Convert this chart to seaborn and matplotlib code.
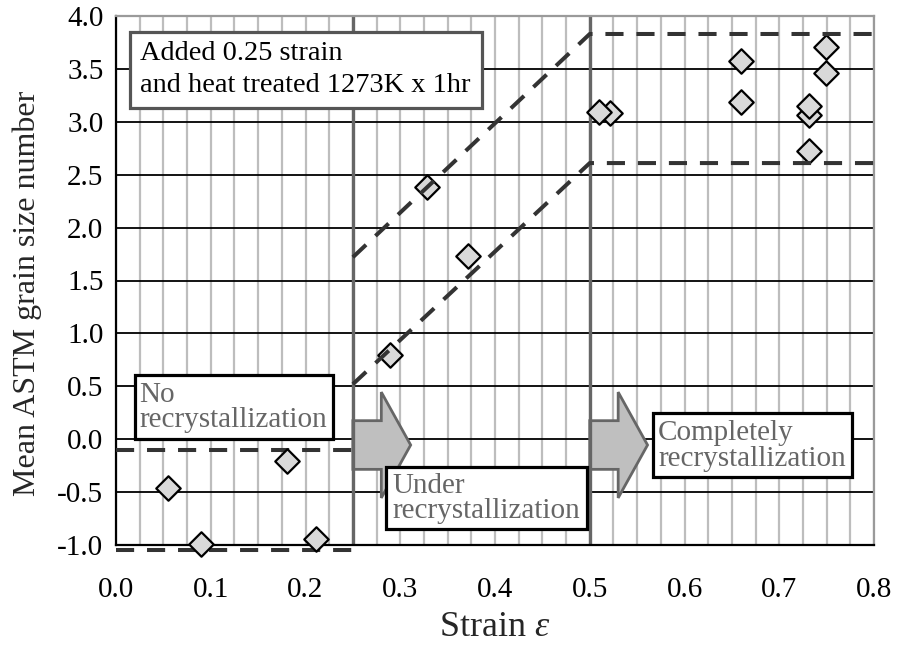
import numpy as np
import pandas as pd
import matplotlib
matplotlib.use("Agg")
import matplotlib.pyplot as plt
from matplotlib.patches import Rectangle, FancyArrow
import seaborn as sns

# ---------------- data ----------------
strain = [0.055, 0.090, 0.180, 0.211, 0.289, 0.328, 0.371,
          0.521, 0.510, 0.660, 0.660, 0.731, 0.731, 0.731, 0.749, 0.749]
grain_size = [-0.46, -0.99, -0.21, -0.94, 0.80, 2.38, 1.73,
              3.08, 3.09, 3.57, 3.19, 2.72, 3.06, 3.15, 3.71, 3.46]

x_ticks = [0.0, 0.1, 0.2, 0.3, 0.4, 0.5, 0.6, 0.7, 0.8]
x_tick_labels = ["0.0", "0.1", "0.2", "0.3", "0.4", "0.5", "0.6", "0.7", "0.8"]
y_ticks = [-1.0, -0.5, 0.0, 0.5, 1.0, 1.5, 2.0, 2.5, 3.0, 3.5, 4.0]
y_tick_labels = ["-1.0", "-0.5", "0.0", "0.5", "1.0", "1.5", "2.0", "2.5", "3.0", "3.5", "4.0"]

region_bounds = [0.25, 0.5]
# guide (band) lines
no_rx_x = [0.0, 0.25]
no_rx_upper = [-0.10, -0.10]
no_rx_lower = [-1.05, -1.05]
upper_band_x = [0.25, 0.5, 0.8]
upper_band_y = [1.72, 3.83, 3.83]
lower_band_x = [0.25, 0.5, 0.8]
lower_band_y = [0.52, 2.61, 2.61]

# ---------------- style ----------------
sns.set_style("white")
plt.rcParams["font.family"] = ["Liberation Serif", "DejaVu Serif"]
plt.rcParams["mathtext.fontset"] = "custom"
plt.rcParams["mathtext.rm"] = "Liberation Serif"
plt.rcParams["mathtext.it"] = "Liberation Serif:italic"
plt.rcParams["axes.unicode_minus"] = False

W, H = 902, 655
fig = plt.figure(figsize=(W / 100, H / 100), dpi=100)
AX_L, AX_R, AX_T, AX_B = 116, 874, 16, 545
ax = fig.add_axes([AX_L / W, (H - AX_B) / H, (AX_R - AX_L) / W, (AX_B - AX_T) / H])


def px2ax(px, py):
    return (px - AX_L) / (AX_R - AX_L), (AX_B - py) / (AX_B - AX_T)


ax.set_xlim(0, 0.8)
ax.set_ylim(-1.0, 4.0)
ax.set_xticks(x_ticks)
ax.set_xticklabels(x_tick_labels)
ax.set_yticks(y_ticks)
ax.set_yticklabels(y_tick_labels)
ax.set_xticks(np.arange(0, 0.8001, 0.025), minor=True)

ax.set_axisbelow(True)
ax.grid(axis="x", which="both", color="#bdbdbd", lw=1.6, zorder=0)
ax.grid(axis="y", which="major", color="black", lw=1.3, zorder=0.5)

for side in ["left", "bottom"]:
    ax.spines[side].set_color("black")
    ax.spines[side].set_linewidth(1.6)
for side in ["top", "right"]:
    ax.spines[side].set_color("#9a9a9a")
    ax.spines[side].set_linewidth(1.6)

ax.tick_params(axis="both", which="major", direction="in", length=6, width=1.5,
               color="black", labelsize=21, labelcolor="black")
ax.tick_params(axis="x", which="major", pad=23)
ax.tick_params(axis="y", which="major", pad=9)
ax.tick_params(which="minor", length=0)

ax.set_xlabel(r"Strain $\varepsilon$", fontsize=26, labelpad=6)
ax.set_ylabel("Mean ASTM grain size number", fontsize=23)
ax.yaxis.set_label_coords(-0.098, 0.476)

# region boundaries
for xb in region_bounds:
    ax.axvline(xb, color="#666666", lw=2.4, zorder=2.5)

# arrows
for x0 in region_bounds:
    arr = FancyArrow(x0, -0.055, 0.061, 0, width=0.46, head_width=1.0,
                     head_length=0.031, length_includes_head=True,
                     fc="#bfbfbf", ec="#666666", lw=2, zorder=2)
    ax.add_patch(arr)

dash = (0, (4.5, 3.2))
dcol = "#333333"
ax.plot(no_rx_x, no_rx_upper, color=dcol, lw=2.9, ls=dash, zorder=2.8, clip_on=False)
ax.plot(no_rx_x, no_rx_lower, color=dcol, lw=2.9, ls=dash, zorder=2.8, clip_on=False)

df = pd.DataFrame({"strain": strain, "grain": grain_size})
sns.scatterplot(data=df, x="strain", y="grain", marker="D", s=155,
                color="#d9d9d9", edgecolor="black", linewidth=1.6,
                zorder=3, clip_on=False, ax=ax, legend=False)

ax.plot(upper_band_x, upper_band_y, color=dcol, lw=2.9, ls=dash, zorder=4, clip_on=False)
ax.plot(lower_band_x, lower_band_y, color=dcol, lw=2.9, ls=dash, zorder=4, clip_on=False)


def box(l, t, r, b, ec):
    x0, y0 = px2ax(l, b)
    x1, y1 = px2ax(r, t)
    ax.add_patch(Rectangle((x0, y0), x1 - x0, y1 - y0, transform=ax.transAxes,
                           fc="white", ec=ec, lw=2.3, zorder=6, clip_on=False))


def line(px, py, s, color, size):
    x, y = px2ax(px, py)
    ax.text(x, y, s, transform=ax.transAxes, ha="left", va="baseline",
            fontsize=size, color=color, zorder=7)


box(130, 32, 482, 108, "#555555")
line(140, 59.5, "Added 0.25 strain", "black", 20.4)
line(140, 92, "and heat treated 1273K x 1hr", "black", 20.4)

box(135, 375, 333, 439, "black")
line(139, 402, "No", "#666666", 21)
line(139, 427, "recrystallization", "#666666", 21)

box(386, 467, 587, 529, "black")
line(392, 493, "Under", "#666666", 21)
line(392, 518.5, "recrystallization", "#666666", 21)

box(653, 413, 852, 477, "black")
line(658, 440, "Completely", "#666666", 21)
line(658, 466, "recrystallization", "#666666", 21)

fig.savefig("out.png", dpi=100)
